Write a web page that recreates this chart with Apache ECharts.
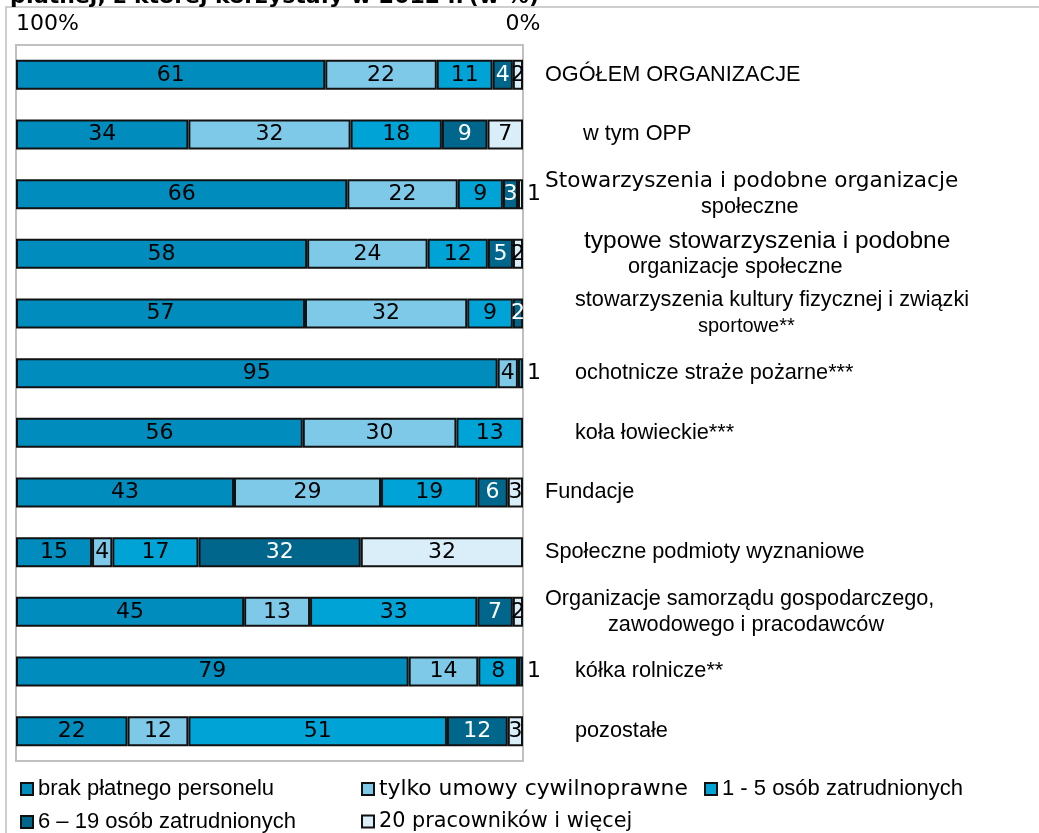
<!DOCTYPE html>
<html>
<head>
<meta charset="utf-8">
<title>Personel organizacji</title>
<script src="https://cdn.jsdelivr.net/npm/echarts@6/dist/echarts.min.js"></script>
<style>
    html, body { margin: 0; padding: 0; background: #fff; }
    #chart { width: 1039px; height: 833px; }
</style>
</head>
<body>
<div id="chart"></div>
<script>
// kategorie (od góry)
var categories = [
    'OGÓŁEM ORGANIZACJE',
    'w tym OPP',
    'Stowarzyszenia i podobne organizacje\nspołeczne',
    'typowe stowarzyszenia i podobne\norganizacje społeczne',
    'stowarzyszenia kultury fizycznej i związki\nsportowe**',
    'ochotnicze straże pożarne***',
    'koła łowieckie***',
    'Fundacje',
    'Społeczne podmioty wyznaniowe',
    'Organizacje samorządu gospodarczego,\nzawodowego i pracodawców',
    'kółka rolnicze**',
    'pozostałe'
];
var seriesNames = [
    'brak płatnego personelu',
    'tylko umowy cywilnoprawne',
    '1 - 5 osób zatrudnionych',
    '6 – 19 osób zatrudnionych',
    '20 pracowników i więcej'
];
// wartości w %
var brak = [61, 34, 66, 58, 57, 95, 56, 43, 15, 45, 79, 22];
var tylkoUmowy = [22, 32, 22, 24, 32, 4, 30, 29, 4, 13, 14, 12];
var osob1do5 = [11, 18, 9, 12, 9, 1, 13, 19, 17, 33, 8, 51];
var osob6do19 = [4, 9, 3, 5, 2, null, null, 6, 32, 7, 1, 12];
var osob20plus = [2, 7, 1, 2, null, null, null, 3, 32, 2, null, 3];
var xTicks = [0, 100];

var colors = ['#008dbd', '#7ec8e8', '#00a3d6', '#00668c', '#d9eef9'];
var labelColors = ['#000', '#000', '#000', '#fff', '#000'];
var allValues = [brak, tylkoUmowy, osob1do5, osob6do19, osob20plus];

// wcięcia linii opisów kategorii (px) i style linii
var labelIndent = [[0], [38], [0, 156], [39, 83], [30, 153], [30], [30], [0], [0], [0, 63], [30], [30]];
var lineStyles = [['a'], ['a'], ['v', 'a'], ['big', 'a'], ['a', 'sm'], ['a'], ['a'], ['a'], ['a'], ['a', 'a'], ['a'], ['a']];

var totals = categories.map(function (c, i) {
    var s = 0;
    allValues.forEach(function (arr) { s += arr[i] || 0; });
    return s;
});

var rich = {
    a: { fontFamily: 'Liberation Sans', fontSize: 21.7, color: '#000', lineHeight: 26 },
    sm: { fontFamily: 'Liberation Sans', fontSize: 20, color: '#000', lineHeight: 26 },
    v: { fontFamily: 'DejaVu Sans', fontSize: 21.6, color: '#000', lineHeight: 26 },
    big: { fontFamily: 'Liberation Sans', fontSize: 24.5, color: '#000', lineHeight: 26 }
};
labelIndent.forEach(function (arr) {
    arr.forEach(function (n) {
        if (n > 0) rich['p' + n] = { width: n, lineHeight: 26 };
    });
});

function catLabel(value, index) {
    var lines = value.split('\n');
    return lines.map(function (line, k) {
        var n = labelIndent[index][k] || 0;
        var st = lineStyles[index][k] || 'a';
        return (n > 0 ? '{p' + n + '|\u00a0}' : '') + '{' + st + '|' + line + '}';
    }).join('\n');
}

// kolejność stosu: od 0% (prawa) do 100% (lewa)
var series = [];
for (var si = 4; si >= 0; si--) {
    (function (si) {
        series.push({
            name: seriesNames[si],
            type: 'bar',
            stack: 'all',
            barWidth: 30,
            itemStyle: { color: colors[si], borderColor: '#111', borderWidth: 2 },
            label: {
                show: true,
                position: 'inside',
                color: labelColors[si],
                fontFamily: 'DejaVu Sans',
                fontSize: 22,
                formatter: function (p) { return p.data.raw; }
            },
            data: allValues[si].map(function (v, i) {
                if (v == null) return null;
                var item = { value: v / totals[i] * 100, raw: v };
                if (v <= 1) item.label = { position: 'right', distance: 4, color: '#000' };
                return item;
            })
        });
    })(si);
}

function legendAt(name, left, top, family, size) {
    return {
        data: [name], left: left, top: top, itemWidth: 12, itemHeight: 12,
        icon: 'rect', itemGap: 0, padding: 0, selectedMode: false,
        textStyle: { fontFamily: family, fontSize: size, color: '#000' }
    };
}

var myChart = echarts.init(document.getElementById('chart'));
var option = {
    animation: false,
    backgroundColor: '#fff',
    title: {
        text: '{b|płatnej, z której korzystały w 2012 r.} {n|(w %)}',
        left: 5, top: -19,
        textStyle: {
            rich: {
                b: { fontFamily: 'DejaVu Sans', fontWeight: 'bold', fontSize: 22, color: '#000' },
                n: { fontFamily: 'DejaVu Sans', fontSize: 22, color: '#000' }
            }
        }
    },
    graphic: [{
        type: 'rect', silent: true, z: -1,
        shape: { x: 6, y: 7, width: 1200, height: 1000 },
        style: { fill: 'none', stroke: '#c0c0c0', lineWidth: 1.5 }
    }],
    grid: {
        left: 16, right: 516, top: 45, bottom: 72,
        show: true, borderColor: '#c0c0c0', borderWidth: 2, backgroundColor: 'transparent'
    },
    legend: [
        legendAt(seriesNames[0], 20, 778, 'Liberation Sans', 22),
        legendAt(seriesNames[1], 361, 778, 'DejaVu Sans', 21.8),
        legendAt(seriesNames[2], 704, 778, 'Liberation Sans', 22),
        legendAt(seriesNames[3], 20, 811, 'Liberation Sans', 22),
        legendAt(seriesNames[4], 361, 811, 'DejaVu Sans', 20.8)
    ],
    xAxis: {
        type: 'value',
        position: 'top',
        inverse: true,
        min: xTicks[0],
        max: xTicks[1],
        interval: 100,
        axisLine: { show: false },
        axisTick: { show: false },
        splitLine: { show: false },
        axisLabel: {
            margin: 10,
            fontFamily: 'DejaVu Sans',
            fontSize: 22,
            color: '#000',
            alignMaxLabel: 'left',
            formatter: function (v) { return v + '%'; }
        }
    },
    yAxis: {
        type: 'category',
        position: 'right',
        inverse: true,
        data: categories,
        axisLine: { show: false },
        axisTick: { show: false },
        axisLabel: {
            margin: 22,
            align: 'left',
            formatter: catLabel,
            rich: rich
        }
    },
    series: series
};
myChart.setOption(option);
</script>
</body>
</html>
